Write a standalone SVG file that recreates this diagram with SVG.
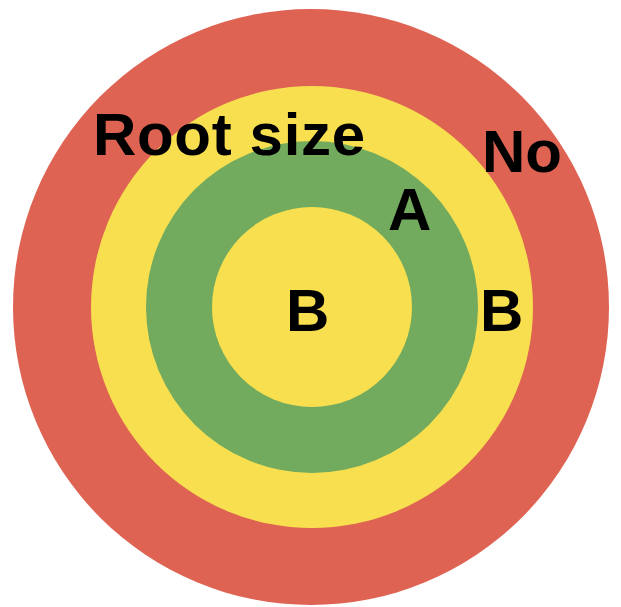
<svg xmlns="http://www.w3.org/2000/svg" width="621" height="607" viewBox="0 0 621 607">
<style>
.lbl{font-family:"Liberation Sans",Arial,sans-serif;font-weight:bold;font-size:60px;fill:#000}
</style>
<rect width="621" height="607" fill="#fff"/>
<g id="ring-no"><circle cx="311" cy="307" r="298" fill="#DE6353"/></g>
<g id="ring-b-outer"><circle cx="312" cy="307" r="221" fill="#F8DF4F"/></g>
<g id="ring-a"><circle cx="312" cy="307" r="166" fill="#72AA5E"/></g>
<g id="core-b"><circle cx="312" cy="307" r="100" fill="#F8DF4F"/></g>
<g id="labels">
<text class="lbl" x="93" y="155" textLength="272" lengthAdjust="spacing">Root size</text>
<text class="lbl" x="482" y="172">No</text>
<text class="lbl" x="388" y="230">A</text>
<text class="lbl" x="480" y="331">B</text>
<text class="lbl" x="286" y="331">B</text>
</g>
</svg>
